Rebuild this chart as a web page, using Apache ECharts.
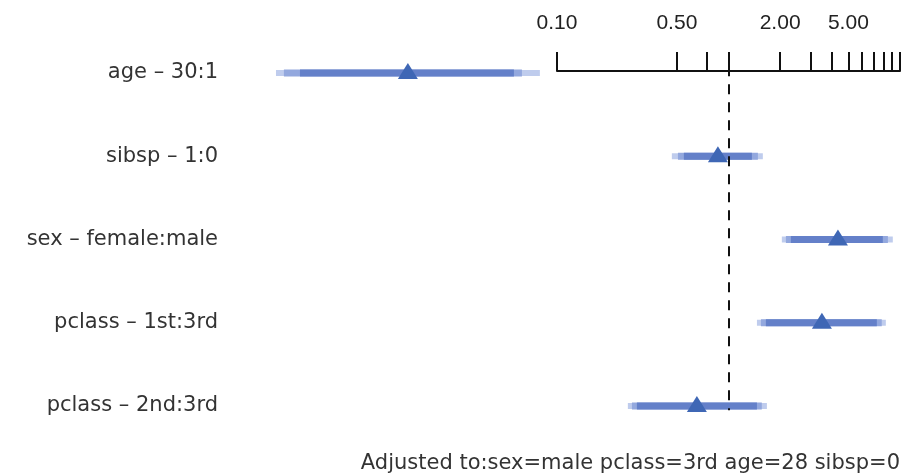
<!DOCTYPE html>
<html>
<head>
<meta charset="utf-8">
<script src="https://cdn.jsdelivr.net/npm/echarts@6/dist/echarts.min.js"></script>
<style>
  html, body { margin: 0; padding: 0; background: #fff; }
  #chart { width: 911px; height: 475px; }
</style>
</head>
<body>
<div id="chart"></div>
<script>
// effects, odds ratio scale
const rows = ['age \u2013 30:1', 'sibsp \u2013 1:0', 'sex \u2013 female:male', 'pclass \u2013 1st:3rd', 'pclass \u2013 2nd:3rd'];
const estimate = [0.0136, 0.87, 4.35, 3.51, 0.656];
const low99 = [0.00232, 0.469, 2.05, 1.468, 0.260];
const high99 = [0.0799, 1.589, 9.08, 8.27, 1.678];
const low95 = [0.00258, 0.509, 2.165, 1.549, 0.2746];
const high95 = [0.0628, 1.487, 8.50, 7.83, 1.567];
const low90 = [0.0032, 0.551, 2.315, 1.655, 0.2935];
const high90 = [0.0564, 1.372, 7.94, 7.33, 1.468];
const tickValues = [0.1, 0.5, 0.75, 1, 2, 3, 4, 5, 6, 7, 8, 9, 10];
const tickLabels = [0.1, 0.5, 2, 5];
const footnote = 'Adjusted to:sex=male pclass=3rd age=28 sibsp=0';

const chart = echarts.init(document.getElementById('chart'));

const bandData = rows.map((r, i) => [i + 1, low99[i], high99[i], low95[i], high95[i], low90[i], high90[i]]);
const pointData = rows.map((r, i) => [estimate[i], i + 1]);

const bandColors = ['#bfcced', '#93a8de', '#6480c9'];
const bandHeights = [6, 7, 7];

function renderBands(params, api) {
  const row = api.value(0);
  const children = [];
  for (let k = 0; k < 3; k++) {
    const p0 = api.coord([api.value(1 + k * 2), row]);
    const p1 = api.coord([api.value(2 + k * 2), row]);
    const h = bandHeights[k];
    children.push({
      type: 'rect',
      shape: { x: p0[0], y: p0[1] - h / 2, width: p1[0] - p0[0], height: h },
      style: { fill: bandColors[k] }
    });
  }
  return { type: 'group', children };
}

const option = {
  animation: false,
  title: {
    text: footnote,
    right: 6,
    bottom: -4,
    textStyle: { fontSize: 21, fontWeight: 'normal', color: '#333', fontFamily: 'DejaVu Sans' }
  },
  grid: [
    { left: 240, right: 11, top: 31.4, bottom: 27.4 },
    { left: 557, right: 11, top: 61, height: 10 }
  ],
  xAxis: [
    {
      gridIndex: 0, type: 'log', logBase: 10, min: 0.001432, max: 10, show: false
    },
    {
      gridIndex: 1, type: 'log', logBase: 10, min: 0.1, max: 10, position: 'top',
      axisLine: { lineStyle: { color: '#111', width: 2 } },
      axisTick: { customValues: tickValues, length: 19, lineStyle: { color: '#111', width: 2 } },
      axisLabel: {
        customValues: tickLabels,
        formatter: v => Number(v).toFixed(2),
        margin: 27, fontSize: 21, color: '#222', fontFamily: 'Liberation Sans'
      },
      splitLine: { show: false }
    }
  ],
  yAxis: [
    {
      gridIndex: 0, type: 'value', min: 0.5, max: 5.5, inverse: true,
      axisLine: { show: false }, axisTick: { show: false }, splitLine: { show: false },
      axisLabel: {
        customValues: [1, 2, 3, 4, 5],
        formatter: v => rows[Math.round(v) - 1],
        margin: 22, fontSize: 21, color: '#333', fontFamily: 'DejaVu Sans'
      }
    },
    { gridIndex: 1, type: 'value', show: false }
  ],
  series: [
    {
      type: 'custom',
      xAxisIndex: 0, yAxisIndex: 0,
      renderItem: renderBands,
      data: bandData,
      silent: true
    },
    {
      type: 'scatter',
      xAxisIndex: 0, yAxisIndex: 0,
      symbol: 'triangle',
      symbolSize: [20, 16],
      symbolOffset: [0, -2],
      itemStyle: { color: '#3f67b5', opacity: 1 },
      data: pointData,
      z: 5,
      markLine: {
        silent: true,
        symbol: 'none',
        label: { show: false },
        lineStyle: { color: '#111', width: 2, type: [10, 8] },
        data: [[{ coord: [1, 0.92] }, { coord: [1, 5.05] }]]
      }
    }
  ]
};

chart.setOption(option);
</script>
</body>
</html>
